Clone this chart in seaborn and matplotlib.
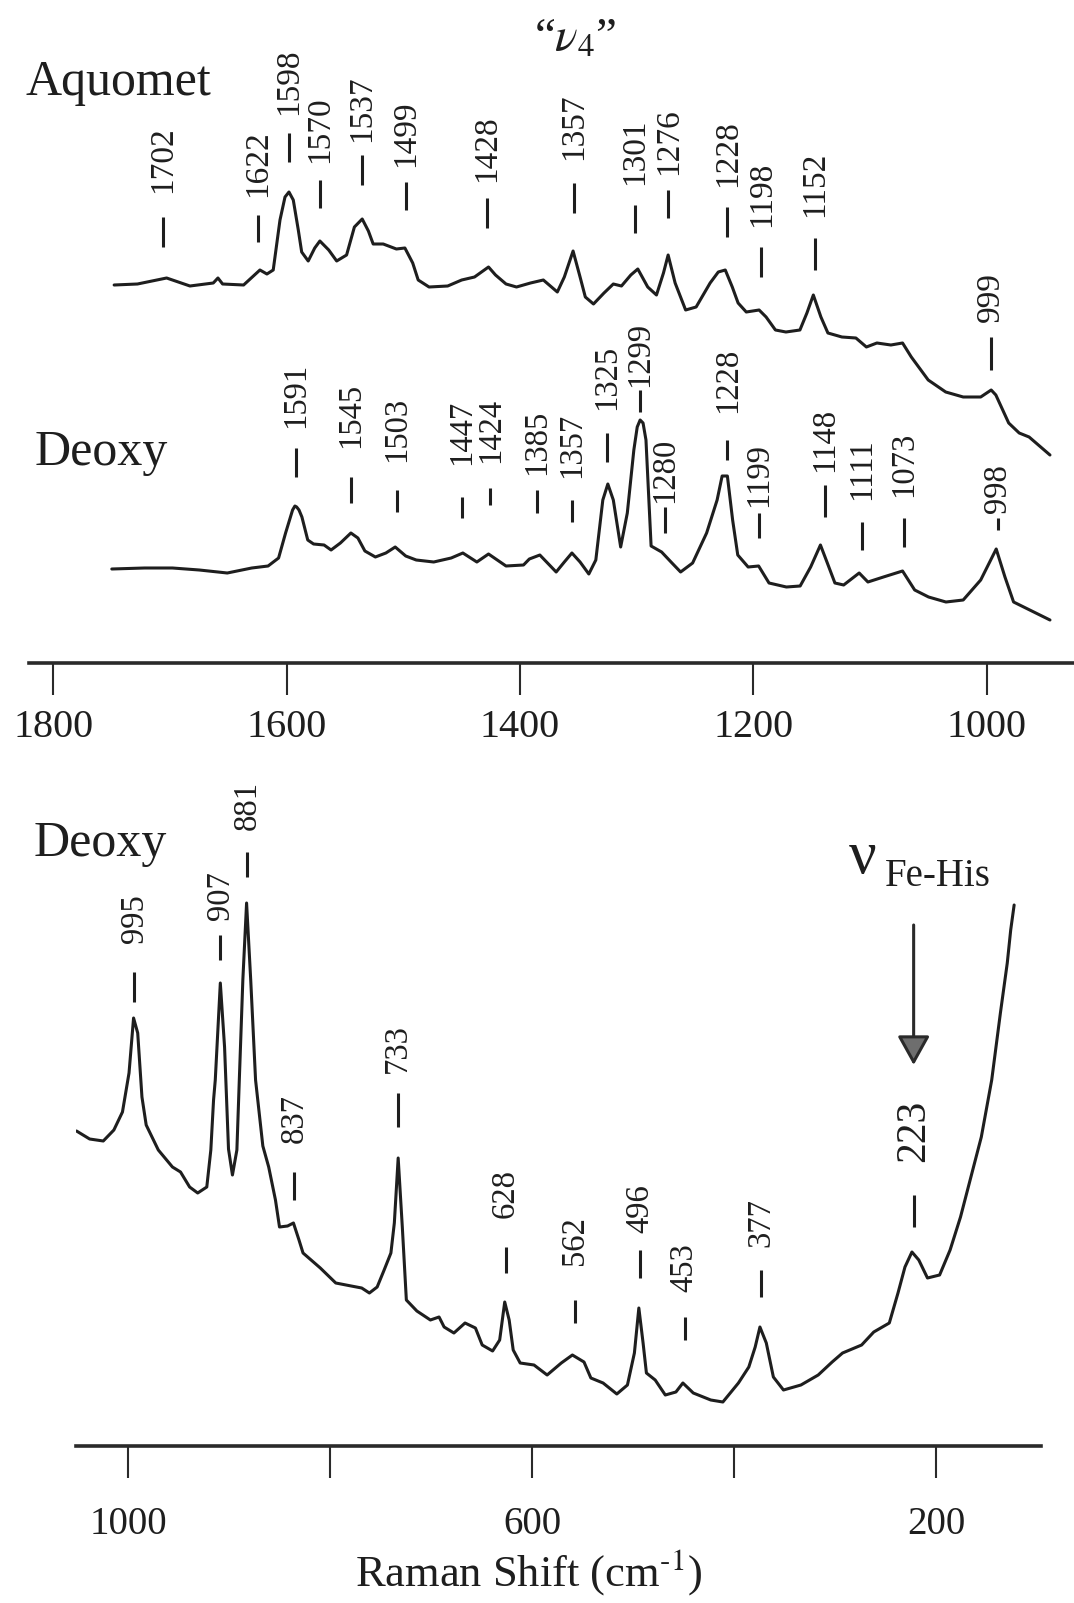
import matplotlib
matplotlib.use("Agg")
import matplotlib.pyplot as plt
import pandas as pd
import seaborn as sns

# ---------------- spectra (Raman shift in cm-1, intensity in arbitrary units) -------------
aquomet_shift = [1748, 1728, 1703, 1683, 1663, 1659, 1655, 1637, 1623, 1617, 1611.6, 1605.8,
                 1601.5, 1598.1, 1594.4, 1590.1, 1587.2, 1581.6, 1576, 1571.6, 1564, 1557.2,
                 1548.7, 1542, 1535.3, 1530, 1525.9, 1517.3, 1506, 1498.7, 1492, 1487.3, 1478,
                 1462, 1450, 1439, 1427, 1421, 1412,
                 1403, 1391, 1380, 1368, 1362, 1354.5, 1348.5, 1344, 1337, 1328, 1320, 1313,
                 1305, 1299, 1290.5, 1283, 1277, 1273, 1267, 1258, 1249, 1237, 1230, 1224,
                 1218, 1213, 1206, 1195, 1189, 1181, 1172, 1160, 1154, 1148.5, 1142, 1136,
                 1124, 1112, 1103, 1094, 1082, 1072, 1064.5, 1050, 1035, 1020, 1005, 996, 992,
                 981, 972, 963.5, 945.6]
aquomet_int = [378, 379, 385, 377, 380, 385, 379, 378, 393, 389, 393, 443,
               466, 471, 463, 433, 411, 402, 415, 422, 413, 402,
               408, 436, 444, 432, 419, 419, 414, 415, 400, 383, 376,
               377, 383, 386, 396, 388, 379,
               376, 380, 383, 371, 386, 412, 386, 366, 359, 370, 379, 377,
               388, 394, 376, 368, 390, 408, 380, 353, 356, 380, 391, 393,
               376, 360, 351, 353, 346, 333, 331, 333, 350, 368, 346, 330,
               326, 325, 316, 320, 318, 320, 306, 283, 271, 266, 266, 273, 268,
               240, 230, 226, 208]

deoxy_hi_shift = [1750, 1722, 1698, 1675, 1651, 1630, 1616, 1607, 1601, 1595, 1593, 1591.5,
                  1589.5, 1587, 1582, 1577, 1568, 1562, 1554, 1545, 1539, 1533, 1524, 1515,
                  1507, 1498, 1489, 1474, 1459, 1449, 1437, 1427, 1412, 1397, 1392, 1383,
                  1369, 1362, 1355.5, 1348.5, 1341, 1335, 1329, 1324.7, 1320, 1313.7, 1308,
                  1302.4, 1299.5, 1297, 1294.5, 1292, 1287.6, 1278.6, 1269.7, 1262.3, 1252,
                  1240, 1231, 1226.7, 1222.2, 1217.7, 1213.3, 1204.4, 1195.4, 1186.5, 1171.6,
                  1159.8, 1150.8, 1142.4, 1136.5, 1130, 1122.5, 1109.2, 1101.7, 1088.4, 1072,
                  1061.6, 1049.7, 1034.8, 1020, 1005, 991.7, 984.2, 976.8, 945.6]
deoxy_hi_int = [94, 95, 95, 93, 90, 95, 97, 105, 130, 153, 157, 156,
                153, 146, 123, 119, 118, 113, 120, 130, 125, 112, 106, 110,
                116, 107, 103, 101, 105, 110, 101, 109, 97, 98, 104, 108,
                91, 101, 110, 101, 89, 103, 163, 179, 163, 116, 150,
                213, 236, 243, 240, 223, 117, 111, 100, 91, 100,
                130, 163, 187, 187, 143, 108, 96, 97, 80, 76,
                77, 96, 118, 100, 80, 78, 90, 81, 86, 92,
                73, 66, 61, 63, 83, 114, 86, 61, 43]

deoxy_lo_shift = [1051, 1038, 1024.5, 1014, 1005.5, 999, 994.5, 990.4, 986.2, 982, 970, 956,
                  948, 939, 931, 922, 918, 915.3, 913.6, 908.6, 904.4, 900.5, 896.6, 892.2,
                  889.8, 886.3, 882.6, 878.5, 873.7, 866.5, 860.7, 854, 850, 842, 836.2,
                  830.7, 826.7, 809.6, 794.3, 779, 768.6, 761, 753.3, 746.4, 739.7, 736.3,
                  732.5, 728.4, 724.4, 714, 700.6, 692, 687, 677.3, 666.3, 656, 649.3, 639,
                  632, 627, 622.6, 618.6, 611.7, 598, 585, 571, 560, 548.5, 541.7, 529.6,
                  516, 505.5, 498.6, 494.2, 490, 486.7, 478, 468, 457.5, 450.6, 440.3, 423,
                  411, 395.6, 385.3, 379, 374.3, 368, 361, 351, 333.7, 316.6, 302.8, 292.5,
                  273.6, 261.6, 246.2, 237.6, 230.7, 223.8, 217, 208.4, 196.4, 186, 175.7,
                  165.4, 155.1, 144.8, 136.2, 129.4, 126, 122.6]
deoxy_lo_int = [315, 307, 305, 316, 334, 373, 428, 413, 349, 321, 296, 279,
                274, 259, 253, 259, 296, 346, 366, 463, 399, 297, 271, 296,
                366, 466, 543, 466, 366, 300, 279, 246, 219, 220, 223,
                206, 193, 178, 163, 160, 158, 153, 159, 176, 193, 223,
                288, 219, 146, 135, 126, 129, 119, 113, 123, 118, 101, 95,
                106, 144, 126, 96, 83, 81, 71, 83, 91, 84, 68, 63,
                52, 61, 93, 138, 103, 73, 66, 51, 54, 63, 53, 46,
                44, 63, 79, 99, 119, 103, 69, 56, 61, 71, 84, 93,
                101, 114, 123, 153, 179, 194, 186, 168, 171, 196, 229,
                269, 309, 366, 433, 483, 516, 541]

# ---------------- peak labels -------------------------------------------------------------
aq_labels = ['1702', '1622', '1598', '1570', '1537', '1499', '1428', '1357', '1301', '1276',
             '1228', '1198', '1152', '999']
aq_label_pos = [1706.5, 1624.4, 1598.5, 1571.4, 1535.9, 1497.6, 1428.2, 1353.6, 1301.6,
                1272.7, 1222.1, 1193, 1147.2, 996.2]
aq_mark_lo = [416, 421, 501, 455, 478, 453, 435, 450, 430, 445, 426, 386, 393, 293]
aq_mark_hi = [446, 448, 530, 483, 508, 481, 465, 480, 458, 473, 456, 416, 425, 326]
aq_text_y = [470, 466, 548, 500, 521, 496, 481, 503, 478, 488, 476, 436, 446, 341]

dh_labels = ['1591', '1545', '1503', '1447', '1424', '1385', '1357', '1325', '1299', '1280',
             '1228', '1199', '1148', '1111', '1073', '998']
dh_label_pos = [1592, 1545.3, 1505.8, 1449.5, 1425.4, 1385.6, 1355.4, 1325.6, 1297.1, 1275.7,
                1222.1, 1195.4, 1138.8, 1106.8, 1070.5, 990.2]
dh_mark_lo = [186, 160, 151, 145, 158, 150, 141, 201, 251, 130, 203, 125, 146, 113, 116, 133]
dh_mark_hi = [215, 186, 173, 166, 175, 173, 163, 230, 273, 156, 223, 150, 178, 141, 145, 145]
dh_text_y = [235, 215, 201, 198, 200, 188, 185, 253, 276, 160, 250, 156, 191, 163, 166, 150]

dl_labels = ['995', '907', '881', '837', '733', '628', '562', '496', '453', '377', '223']
dl_label_pos = [993.8, 908.5, 881.9, 835.2, 732.9, 626.1, 557.8, 492.6, 448.9, 373.3, 222.1]
dl_mark_lo = [444, 486, 569, 246, 319, 173, 123, 168, 106, 149, 219]
dl_mark_hi = [474, 511, 594, 274, 353, 199, 146, 196, 129, 176, 251]
dl_text_y = [503, 526, 616, 303, 373, 228, 181, 213, 154, 199, 284]

top_ticks = [1800, 1600, 1400, 1200, 1000]
top_tick_labels = ['1800', '1600', '1400', '1200', '1000']
bottom_ticks = [1000, 800, 600, 400, 200]
bottom_tick_labels = ['1000', '', '600', '', '200']

# ---------------- styling ----------------------------------------------------------------
sns.set_theme(style="white")
plt.rcParams['font.family'] = ['Liberation Serif', 'DejaVu Serif']
plt.rcParams['mathtext.fontset'] = 'stix'

INK = '#1e1e1e'
W, H = 1074, 1603
fig = plt.figure(figsize=(W / 100, H / 100), dpi=100)
fig.patch.set_facecolor('white')

ax1 = fig.add_axes([29 / W, 1 - 663 / H, 1 - 29 / W, 663 / H])
ax2 = fig.add_axes([76 / W, 1 - 1446 / H, 965 / W, 686 / H])

top_df = pd.concat([
    pd.DataFrame({'shift': aquomet_shift, 'intensity': aquomet_int, 'spectrum': 'Aquomet'}),
    pd.DataFrame({'shift': deoxy_hi_shift, 'intensity': deoxy_hi_int, 'spectrum': 'Deoxy'}),
])
bot_df = pd.DataFrame({'shift': deoxy_lo_shift, 'intensity': deoxy_lo_int, 'spectrum': 'Deoxy'})

sns.lineplot(data=top_df, x='shift', y='intensity', hue='spectrum',
             palette={'Aquomet': INK, 'Deoxy': INK}, estimator=None, legend=False,
             linewidth=2.2, ax=ax1)
sns.lineplot(data=bot_df, x='shift', y='intensity', color=INK, estimator=None,
             legend=False, linewidth=2.2, ax=ax2)
for ax in (ax1, ax2):
    for ln in ax.get_lines():
        ln.set_solid_joinstyle('round')

for ax in (ax1, ax2):
    ax.set_facecolor('none')
    for s in ('left', 'top', 'right'):
        ax.spines[s].set_visible(False)
    ax.spines['bottom'].set_linewidth(2.6)
    ax.spines['bottom'].set_color('#2a2a2a')
    ax.set_yticks([])
    ax.set_ylabel('')
    ax.set_xlabel('')
    ax.tick_params(axis='x', bottom=True, direction='out', length=23, width=1.5,
                   color='#2a2a2a', labelcolor=INK)

ax1.set_xlim(1821, 925)
ax1.set_ylim(0, 663)
ax1.set_xticks(top_ticks)
ax1.set_xticklabels(top_tick_labels)
ax1.tick_params(axis='x', labelsize=29, pad=10)

ax2.set_xlim(1051.5, 96)
ax2.set_ylim(0, 686)
ax2.set_xticks(bottom_ticks)
ax2.set_xticklabels(bottom_tick_labels)
ax2.tick_params(axis='x', labelsize=28, pad=20)
ax2.set_xlabel('Raman Shift (cm$^{\\text{-}1}$)', fontsize=32, color=INK, va='center')
ax2.xaxis.set_label_coords((529 - 76) / 965, (1446 - 1572) / 686)


def peak_labels(ax, labels, pos, lo, hi, ty, size):
    ax.vlines(pos, lo, hi, colors=INK, linewidth=2.2)
    for lab, x, y in zip(labels, pos, ty):
        fs = 30 if lab == '223' else size
        ax.text(x, y, lab, rotation=90, ha='center', va='bottom', fontsize=fs, color=INK)


peak_labels(ax1, aq_labels, aq_label_pos, aq_mark_lo, aq_mark_hi, aq_text_y, 24)
peak_labels(ax1, dh_labels, dh_label_pos, dh_mark_lo, dh_mark_hi, dh_text_y, 23.5)
peak_labels(ax2, dl_labels, dl_label_pos, dl_mark_lo, dl_mark_hi, dl_text_y, 23.5)

# spectrum names
ax1.text(1824, 568, 'Aquomet', fontsize=36, ha='left', va='baseline', color=INK)
ax1.text(1816, 198, 'Deoxy', fontsize=36, ha='left', va='baseline', color=INK)
ax2.text(1094, 590, 'Deoxy', fontsize=36, ha='left', va='baseline', color=INK)

# nu4 marker
ax1.text(1353, 612, '“$\\nu_4$”', fontsize=34, ha='center', va='baseline', color=INK)

# Fe-His band marker
ax2.text(286, 573, 'ν', fontsize=44, ha='left', va='baseline', color=INK)
ax2.text(251, 560, 'Fe-His', fontsize=28, ha='left', va='baseline', color=INK)
ax2.annotate('', xy=(222.1, 381), xytext=(222.1, 521),
             arrowprops=dict(arrowstyle='-|>,head_length=0.9,head_width=0.5',
                             mutation_scale=20, lw=2.2, ec='#2a2a2a', fc='#6e6e6e',
                             shrinkA=0, shrinkB=0))

fig.savefig('out.png', dpi=100, facecolor='white')
